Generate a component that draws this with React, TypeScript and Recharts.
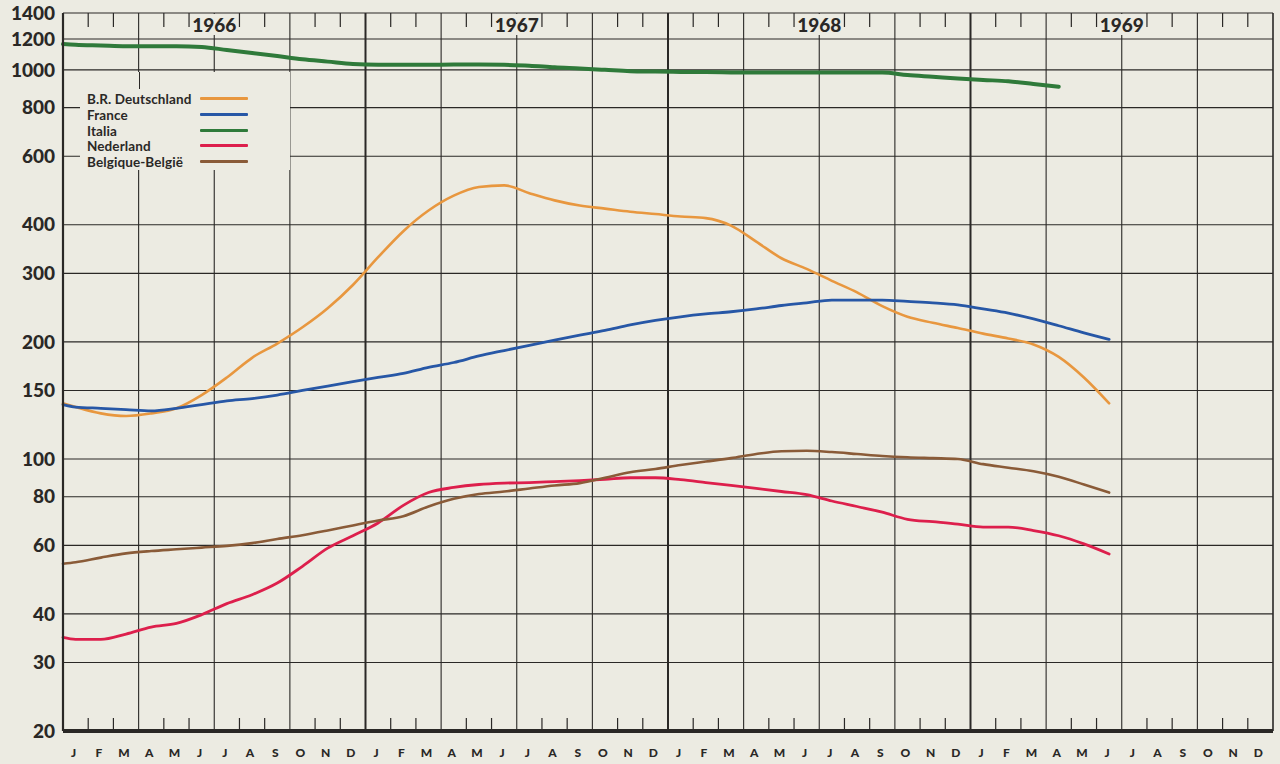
import { CartesianGrid, Line, LineChart, ReferenceLine, XAxis, YAxis } from 'recharts';

const MONTHS = ['J', 'F', 'M', 'A', 'M', 'J', 'J', 'A', 'S', 'O', 'N', 'D'];
const MONTH_LABELS = [...MONTHS, ...MONTHS, ...MONTHS, ...MONTHS];
const YEARS = ['1966', '1967', '1968', '1969'];
const Y_TICKS = [20, 30, 40, 60, 80, 100, 150, 200, 300, 400, 600, 800, 1000, 1200, 1400];

// value where each line meets the left edge
const START = { de: 139, fr: 138, it: 1165, nl: 34.8, be: 53.8 };

// monthly values from Jan 1966
const DE = [
  136, 131, 129, 131, 135, 146, 162, 182, 198, 218, 244, 280,
  330, 385, 435, 475, 500, 505, 482, 462, 448, 440, 432, 426,
  420, 416, 398, 362, 328, 308, 287, 268, 247, 232, 224, 217,
  210, 204, 197, 183, 162, 139,
];
const FR = [
  136, 135, 134, 133, 135, 138, 141, 143, 146, 150, 154, 158,
  162, 166, 172, 177, 184, 190, 196, 202, 208, 214, 221, 227,
  232, 236, 239, 243, 248, 252, 256, 256, 256, 254, 252, 249,
  243, 237, 229, 220, 211, 203,
];
const IT = [
  1160, 1155, 1150, 1150, 1150, 1145, 1125, 1105, 1085, 1065, 1050, 1035,
  1030, 1030, 1030, 1032, 1032, 1030, 1025, 1015, 1008, 1000, 992, 990,
  988, 987, 985, 984, 984, 984, 984, 984, 984, 970, 960, 950,
  942, 935, 920, 905,
];
const NL = [
  34.4, 34.4, 35.5, 37.0, 37.8, 39.8, 42.5, 44.8, 48.0, 53.0, 59.0, 63.5,
  68.5, 76.0, 82.0, 84.5, 86.0, 86.7, 87.0, 87.5, 88.0, 88.7, 89.5, 89.5,
  88.5, 87.0, 85.5, 84.0, 82.5, 81.0, 78.0, 75.5, 73.0, 70.0, 69.0, 68.0,
  66.8, 66.8, 65.5, 63.5, 60.5, 57.0,
];
const BE = [
  54.3, 55.8, 57.2, 58.0, 58.6, 59.2, 59.8, 60.8, 62.3, 63.7, 65.5, 67.5,
  69.5, 71.3, 75.5, 79.0, 81.3, 82.5, 84.0, 85.5, 86.7, 89.5, 92.5, 94.3,
  96.5, 98.5, 100.5, 103, 104.7, 105, 104.2, 103, 101.8, 101, 100.5, 100,
  97, 95, 93, 90, 86, 82,
];

const SERIES = [
  { key: 'de', name: 'B.R. Deutschland', color: '#e8973f', width: 2.6 },
  { key: 'fr', name: 'France', color: '#2757a6', width: 2.8 },
  { key: 'it', name: 'Italia', color: '#2f7a3a', width: 4 },
  { key: 'nl', name: 'Nederland', color: '#dd1f4c', width: 2.8 },
  { key: 'be', name: 'Belgique-België', color: '#8a5b38', width: 2.6 },
];

const data = [
  { x: 0, ...START },
  ...DE.map((v, i) => ({ x: i + 0.5, de: v, fr: FR[i], it: IT[i], nl: NL[i], be: BE[i] })),
];

const W = 1280;
const H = 764;
const LEFT = 63;
const RIGHT = 7;
const TOP = 13;
const BOTTOM = 33;
const PLOT_BOTTOM = H - BOTTOM;
const PAPER = '#ecebe2';
const INK = '#2a2826';
const FONT = 'Lato, "DejaVu Sans", sans-serif';

const QUARTERS = Array.from({ length: 15 }, (_, i) => (i + 1) * 3).filter((k) => k % 12 !== 0);
const YEAR_LINES = [12, 24, 36];
const MONTH_BOUNDS = Array.from({ length: 47 }, (_, i) => i + 1).filter((k) => k % 3 !== 0);
const YEAR_MIDS = YEARS.map((_, i) => i * 12 + 6);
const BOTTOM_TICKS = MONTH_LABELS.map((_, i) => i + 0.5);

// short month ticks hanging from the top edge and standing on the bottom edge
function BoundTicks(props: any) {
  const vb = props.viewBox || {};
  const x = vb.x;
  const y = vb.y;
  const h = vb.height;
  return (
    <g>
      <line x1={x} x2={x} y1={y} y2={y + 14} stroke={INK} strokeWidth={1.2} />
      <line x1={x} x2={x} y1={y + h} y2={y + h - 13} stroke={INK} strokeWidth={1.2} />
    </g>
  );
}

function YearLabel(props: any) {
  const vb = props.viewBox || {};
  const x = vb.x;
  const y = vb.y;
  return (
    <g>
      <rect x={x - 23} y={y + 1} width={46} height={21} fill={PAPER} />
      <text x={x} y={y + 11} textAnchor="middle" dominantBaseline="central"
        fontFamily={FONT} fontWeight={900} fontSize={19} fill={INK}>
        {props.text}
      </text>
    </g>
  );
}

function BottomTick(props: any) {
  const { x, payload } = props;
  const i = Math.round(payload.value - 0.5);
  return (
    <text x={x - 2} y={PLOT_BOTTOM + 21} textAnchor="middle" dominantBaseline="central"
      fontFamily={FONT} fontWeight={900} fontSize={12} fill={INK}>
      {MONTH_LABELS[i]}
    </text>
  );
}

function LegendBox() {
  const rows = [98, 114, 130, 145, 161];
  return (
    <div style={{ position: 'absolute', left: 80, top: 72, width: 210, height: 98, background: PAPER }}>
      {SERIES.map((s, i) => (
        <div key={s.key} style={{ position: 'absolute', left: 7, top: rows[i] - 72 - 8, height: 16, width: 200 }}>
          <span style={{ fontFamily: FONT, fontWeight: 700, fontSize: 13.5, color: INK, lineHeight: '16px', letterSpacing: 0.1 }}>
            {s.name}
          </span>
          <div style={{ position: 'absolute', left: 113, top: 7, width: 48, height: 3, background: s.color, borderRadius: 1 }} />
        </div>
      ))}
    </div>
  );
}

function VStub() {
  // the quarter line left of the legend shows between the 1000 line and the legend
  return <div style={{ position: 'absolute', left: 139, top: 72, width: 1.1, height: 17, background: INK }} />;
}

export default function App() {
  return (
    <div style={{ position: 'absolute', left: 0, top: 0, width: W, height: H, background: PAPER }}>
      <LineChart width={W} height={H} data={data} margin={{ top: TOP, right: RIGHT, left: 0, bottom: 0 }}>
        <CartesianGrid vertical={false} stroke={INK} strokeWidth={1.1} />
        {QUARTERS.map((q) => (
          <ReferenceLine key={q} x={q} stroke={INK} strokeWidth={1.1} ifOverflow="visible" />
        ))}
        {YEAR_LINES.map((q) => (
          <ReferenceLine key={q} x={q} stroke={INK} strokeWidth={2} ifOverflow="visible" />
        ))}
        <ReferenceLine x={48} stroke={INK} strokeWidth={1.6} ifOverflow="visible" />
        {MONTH_BOUNDS.map((k) => (
          <ReferenceLine key={'b' + k} x={k} stroke="none" ifOverflow="visible" label={<BoundTicks />} />
        ))}
        {YEAR_MIDS.map((k, i) => (
          <ReferenceLine key={'y' + k} x={k} stroke="none" ifOverflow="visible" label={<YearLabel text={YEARS[i]} />} />
        ))}
        <XAxis
          type="number"
          dataKey="x"
          domain={[0, 48]}
          ticks={BOTTOM_TICKS}
          interval={0}
          height={BOTTOM}
          axisLine={{ stroke: INK, strokeWidth: 4 }}
          tickLine={false}
          tick={<BottomTick />}
        />
        <YAxis
          scale="log"
          domain={[20, 1400]}
          ticks={Y_TICKS}
          interval={0}
          allowDataOverflow
          width={LEFT}
          axisLine={{ stroke: INK, strokeWidth: 2.2 }}
          tickLine={false}
          tickMargin={2}
          tick={{ fill: INK, fontSize: 19, fontWeight: 900, fontFamily: FONT }}
        />
        {SERIES.map((s) => (
          <Line
            key={s.key}
            dataKey={s.key}
            type="monotone"
            stroke={s.color}
            strokeWidth={s.width}
            dot={false}
            activeDot={false}
            isAnimationActive={false}
            strokeLinecap="round"
          />
        ))}
      </LineChart>
      <LegendBox />
      <VStub />
    </div>
  );
}
